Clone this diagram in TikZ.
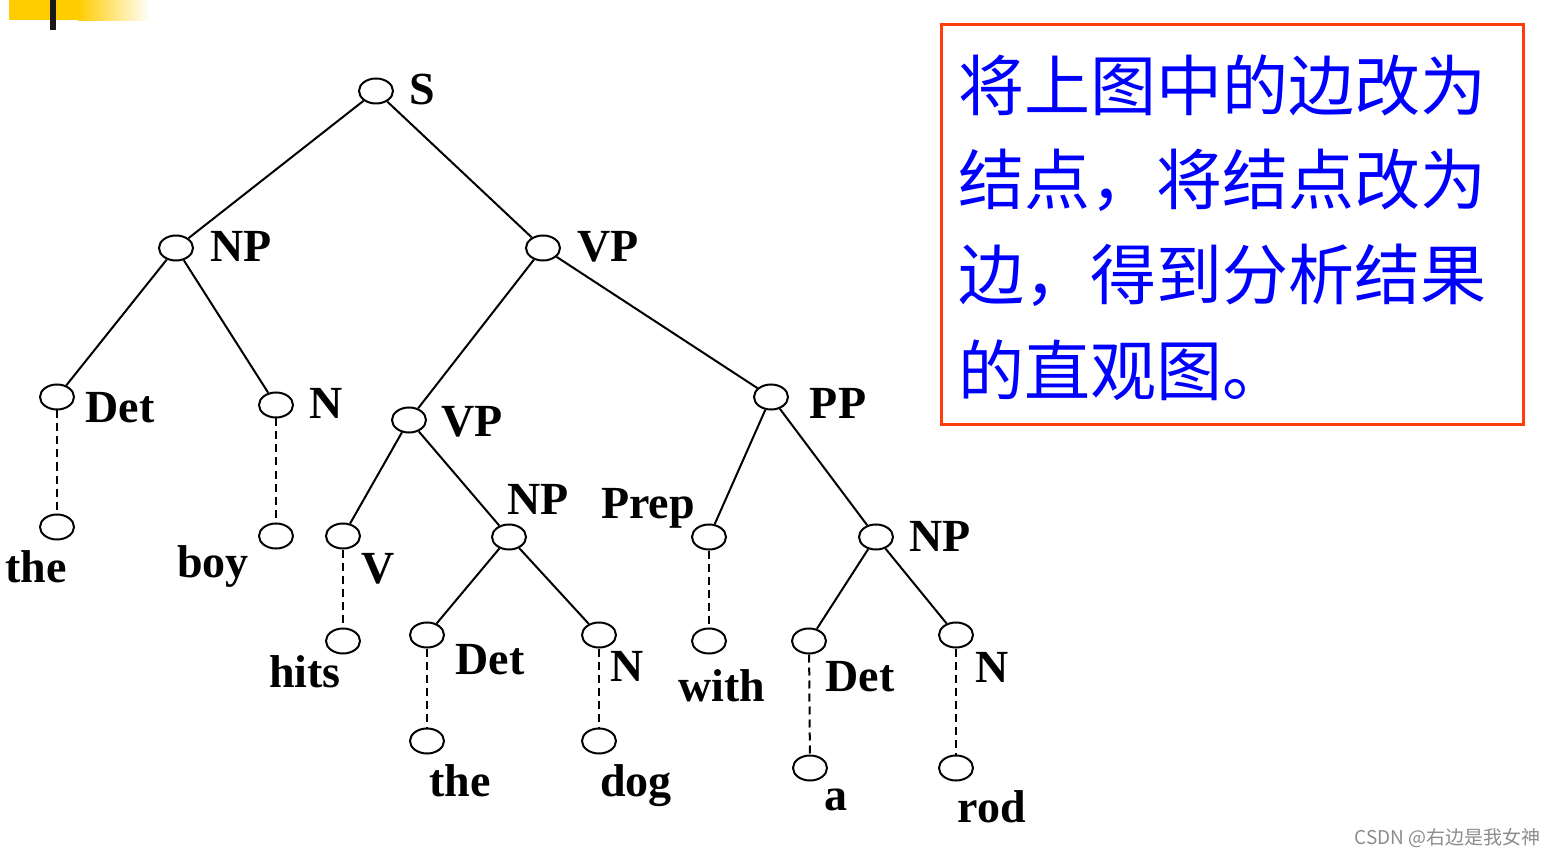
\documentclass[tikz,border=0pt]{standalone}
\usepackage{fontspec}
\setmainfont{Liberation Serif}
\newfontfamily\cjk{Noto Sans CJK SC}
\usetikzlibrary{shapes.geometric}
\definecolor{boxred}{RGB}{255,60,10}
\definecolor{txtblue}{RGB}{0,0,255}
\definecolor{gold}{RGB}{255,204,0}
\begin{document}
\begin{tikzpicture}[x=1pt,y=-1pt,
  nd/.style={ellipse,draw,line width=2pt,minimum width=34pt,minimum height=25pt,inner sep=0pt},
  lb/.style={font=\fontsize{46}{46}\selectfont\bfseries,inner sep=0pt,anchor=base},
  edge/.style={line width=2pt},
  leaf/.style={line width=2pt,dash pattern=on 8pt off 5pt},
  cn/.style={font=\cjk\fontsize{66}{66}\selectfont,text=txtblue,inner sep=0pt,anchor=west}]
\useasboundingbox (0,0) rectangle (1556,858);
% top-left decoration
\fill[gold] (9,0) rectangle (78,20);
\shade[left color=gold,right color=white] (78,0) rectangle (150,21);
\fill[black!90] (50,0) rectangle (56,30);
% tree nodes
\node[nd] (S) at (376,91) {};
\node[nd] (NP) at (176,248) {};
\node[nd] (VP) at (543,248) {};
\node[nd] (Det) at (57,397) {};
\node[nd] (N) at (276,405) {};
\node[nd] (VP2) at (409,420) {};
\node[nd] (PP) at (771,397) {};
\node[nd] (the) at (57,527) {};
\node[nd] (boy) at (276,536) {};
\node[nd] (V) at (343,536) {};
\node[nd] (NP2) at (509,537) {};
\node[nd] (Prep) at (709,537) {};
\node[nd] (NP3) at (876,537) {};
\node[nd] (hits) at (343,641) {};
\node[nd] (Det2) at (427,635) {};
\node[nd] (N2) at (599,635) {};
\node[nd] (with) at (709,641) {};
\node[nd] (Det3) at (809,641) {};
\node[nd] (N3) at (956,635) {};
\node[nd] (the2) at (427,741) {};
\node[nd] (dog) at (599,741) {};
\node[nd] (a) at (810,768) {};
\node[nd] (rod) at (956,768) {};
% labels
\node[lb] (lS) at (422,105) {S};
\node[lb] (lNP) at (241,262) {NP};
\node[lb] (lVP) at (608,262) {VP};
\node[lb] (lDet) at (120,423) {Det};
\node[lb] (lN) at (326,419) {N};
\node[lb] (lVP2) at (472,437) {VP};
\node[lb] (lPP) at (838,419) {PP};
\node[lb] (lthe) at (36,582) {the};
\node[lb] (lboy) at (213,577) {boy};
\node[lb] (lV) at (378,583) {V};
\node[lb] (lNP2) at (538,514) {NP};
\node[lb] (lPrep) at (648,518) {Prep};
\node[lb] (lNP3) at (940,551) {NP};
\node[lb] (lhits) at (305,687) {hits};
\node[lb] (lDet2) at (490,674) {Det};
\node[lb] (lN2) at (627,681) {N};
\node[lb] (lwith) at (722,701) {with};
\node[lb] (lDet3) at (860,691) {Det};
\node[lb] (lN3) at (992,682) {N};
\node[lb] (lthe2) at (460,796) {the};
\node[lb] (ldog) at (636,796) {dog};
\node[lb] (la) at (836,810) {a};
\node[lb] (lrod) at (992,822) {rod};
% edges
\draw[edge] (S) -- (NP);
\draw[edge] (S) -- (VP);
\draw[edge] (NP) -- (Det);
\draw[edge] (NP) -- (N);
\draw[edge] (VP) -- (VP2);
\draw[edge] (VP) -- (PP);
\draw[edge] (VP2) -- (V);
\draw[edge] (VP2) -- (NP2);
\draw[edge] (PP) -- (Prep);
\draw[edge] (PP) -- (NP3);
\draw[edge] (NP2) -- (Det2);
\draw[edge] (NP2) -- (N2);
\draw[edge] (NP3) -- (Det3);
\draw[edge] (NP3) -- (N3);
\draw[leaf] (Det) -- (the);
\draw[leaf] (N) -- (boy);
\draw[leaf] (V) -- (hits);
\draw[leaf] (Prep) -- (with);
\draw[leaf] (Det2) -- (the2);
\draw[leaf] (N2) -- (dog);
\draw[leaf] (Det3) -- (a);
\draw[leaf] (N3) -- (rod);
% note box
\draw[boxred,line width=3pt] (941,25) rectangle (1523,425);
\node[cn] (t1) at (958,85) {将上图中的边改为};
\node[cn] (t2) at (958,180) {结点，将结点改为};
\node[cn] (t3) at (958,275) {边，得到分析结果};
\node[cn] (t4) at (958,370) {的直观图。};
% watermark
\node[font=\cjk\fontsize{19}{19}\selectfont,text=black!45,inner sep=0pt,anchor=east] (wm) at (1541,838) {CSDN @右边是我女神};
\end{tikzpicture}
\end{document}
